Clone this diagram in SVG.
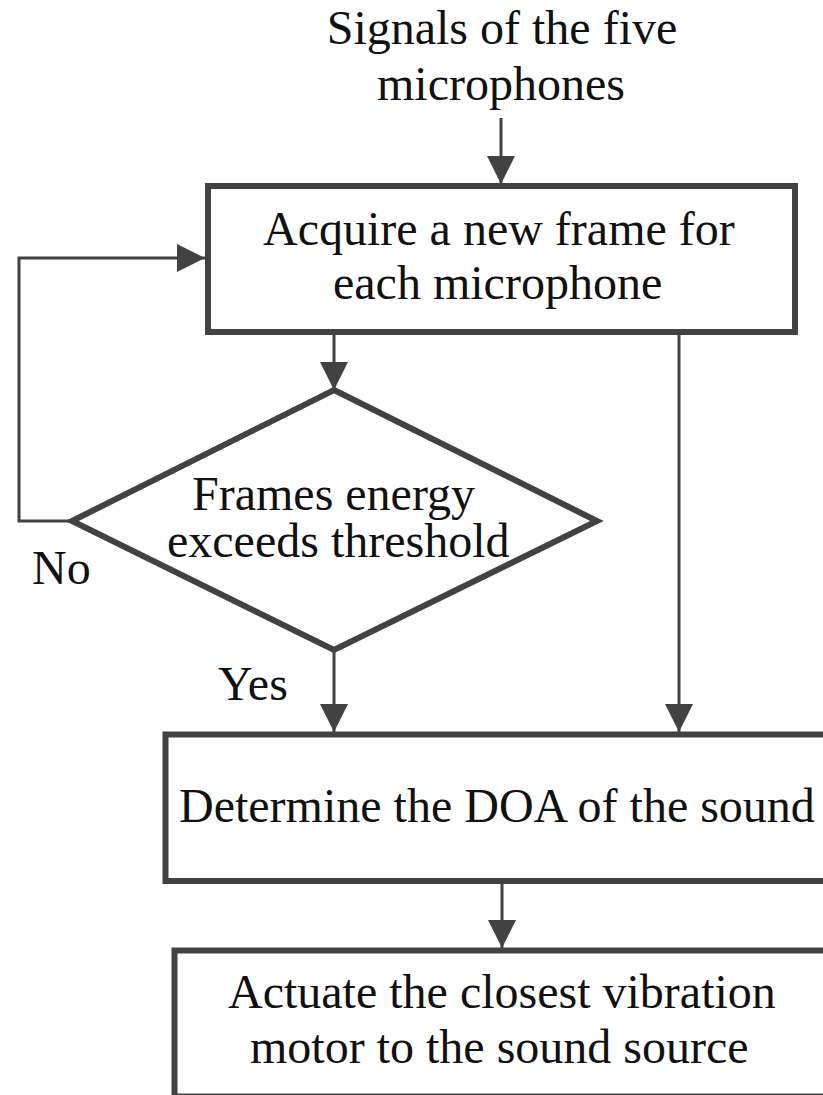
<svg xmlns="http://www.w3.org/2000/svg" width="823" height="1095" viewBox="0 0 823 1095">
<style>
  .box { fill: #ffffff; stroke: #424242; stroke-width: 6; }
  .conn { fill: none; stroke: #424242; stroke-width: 3; }
  .t { font-family: "Liberation Serif", "Times New Roman", serif; font-size: 48px; fill: #111111; }
</style>
<defs>
  <marker id="arrow" markerUnits="userSpaceOnUse" markerWidth="28" markerHeight="28" viewBox="0 0 28 28" refX="28" refY="14" orient="auto">
    <path d="M0,0 L28,14 L0,28 z" fill="#424242"/>
  </marker>
</defs>
<rect width="823" height="1095" fill="#ffffff"/>

<g id="input-label">
  <text class="t" x="502" y="44" text-anchor="middle">Signals of the five</text>
  <text class="t" x="501" y="100" text-anchor="middle">microphones</text>
</g>

<g id="acquire">
  <rect class="box" x="208" y="186" width="587" height="146"/>
  <text class="t" x="263" y="245">Acquire a new frame for</text>
  <text class="t" x="333" y="299">each microphone</text>
</g>

<g id="decision">
  <polygon class="box" points="334,390 597,521 334,650 72,521" stroke-linejoin="miter"/>
  <text class="t" x="192" y="510">Frames energy</text>
  <text class="t" x="167" y="557">exceeds threshold</text>
</g>

<g id="doa">
  <rect class="box" x="165.5" y="734.5" width="700" height="146.5"/>
  <text class="t" x="179" y="822">Determine the DOA of the sound</text>
</g>

<g id="actuate">
  <rect class="box" x="174.5" y="950.5" width="700" height="146"/>
  <text class="t" x="228" y="1008">Actuate the closest vibration</text>
  <text class="t" x="250" y="1063">motor to the sound source</text>
</g>

<g id="connectors">
  <line class="conn" x1="501" y1="118" x2="501" y2="184" marker-end="url(#arrow)"/>
  <line class="conn" x1="334" y1="333" x2="334" y2="390" marker-end="url(#arrow)"/>
  <line class="conn" x1="334" y1="650" x2="334" y2="732" marker-end="url(#arrow)"/>
  <line class="conn" x1="679" y1="333" x2="679" y2="732" marker-end="url(#arrow)"/>
  <polyline class="conn" points="72,521 19,521 19,258 205,258" marker-end="url(#arrow)"/>
  <line class="conn" x1="502" y1="882" x2="502" y2="948" marker-end="url(#arrow)"/>
  <text class="t" x="32" y="584">No</text>
  <text class="t" x="218" y="700">Yes</text>
</g>
</svg>
